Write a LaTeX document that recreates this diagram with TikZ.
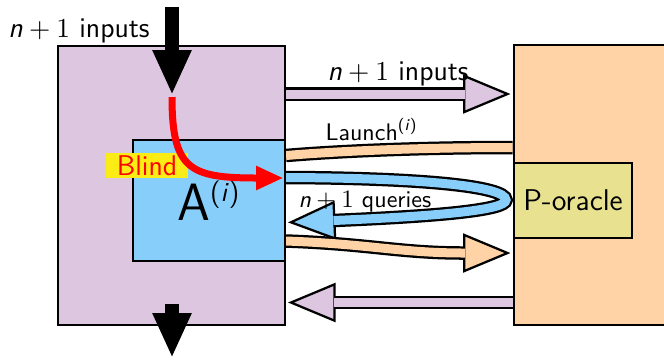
\documentclass[tikz,border=0pt]{standalone}
\usepackage{amsmath}
\usepackage{xcolor}
\usepackage{tikz}
\usetikzlibrary{arrows.meta,backgrounds}
\renewcommand{\familydefault}{\sfdefault}
\definecolor{wrapviolet}{RGB}{220,198,224}
\definecolor{askyblue}{RGB}{135,206,250}
\definecolor{oraclepeach}{RGB}{255,211,165}
\definecolor{oraclekhaki}{RGB}{232,226,144}
\definecolor{blindyellow}{RGB}{250,236,20}
\newcommand{\nplusone}{\textsl{n}${}+1$}
\newcommand{\ith}[1]{\textsuperscript{\fontsize{#1}{#1}\selectfont(\textsl{i})}}
\tikzset{
  box/.style={draw=black,line width=0.8pt,fill=#1,inner sep=0pt},
  band/.style={line width=5.4pt,draw=black,shorten >=0.8pt,
    -{Triangle[length=19pt,width=15.6pt,line width=0.9pt,color=black,fill=#1]},
    postaction={draw=#1,line width=3.6pt,-,shorten >=19pt}},
  flatband/.style={line width=5.4pt,draw=black,
    postaction={draw=#1,line width=3.6pt}},
  bigarrow/.style={line width=5.4pt,draw=black,-{Triangle[length=18pt,width=14.4pt]}},
  blindarrow/.style={line width=2.8pt,draw=red,-{Triangle[length=11pt,width=9pt]}},
  biglabel/.style={font=\fontsize{11.4}{13}\selectfont,inner sep=0pt},
  smalllabel/.style={font=\fontsize{9.6}{11}\selectfont,inner sep=0pt}
}

\begin{document}
\begin{tikzpicture}[x=0.4pt,y=-0.4pt]
  \useasboundingbox (0,0) rectangle (664,362);
  \clip (0,0) rectangle (664,362);
  % boxes
  \node[box=wrapviolet,minimum width=90.8pt,minimum height=111.6pt] (wrap) at (171.5,185.3) {};
  \node[box=oraclepeach,minimum width=74.8pt,minimum height=112pt] (peach) at (607,185) {};
  \node[box=askyblue,minimum width=60.8pt,minimum height=48.3pt,
    font=\fontsize{21}{24}\selectfont] (abox) at (209,200.3) {A\ith{11}};
  \node[box=oraclekhaki,minimum width=47.2pt,minimum height=30.2pt,
    font=\fontsize{12}{14}\selectfont] (oracle) at (573,200.5) {P-oracle};
  % labels
  \node[biglabel,anchor=base west] (inlabel) at (8,37) {\nplusone{} inputs};
  \node[biglabel,anchor=base west] (fwdlabel) at (327,80) {\nplusone{} inputs};
  \node[smalllabel,anchor=base west] (launchlabel) at (325,140) {Launch\ith{6.5}};
  \node[smalllabel,anchor=base west] (querylabel) at (298,207) {\nplusone{} queries};
  \node[biglabel,fill=blindyellow,text=red,minimum width=32.8pt,minimum height=10pt]
    (blind) at (147,165.5) {Blind};
  % bands between the boxes
  \begin{pgfonlayer}{background}
    \draw[band=wrapviolet] (wrap.east |- 0,94) -- (peach.west |- 0,94);
    \draw[flatband=oraclepeach] (peach.west |- 0,147.5)
      .. controls (420,147.5) and (340,151) .. (abox.east |- 0,155.5);
    \draw[band=askyblue] (abox.east |- 0,177.5)
      .. controls (420,178) and (506,186) .. (506,200)
      .. controls (506,210) and (440,216) .. (abox.east |- 0,222.5);
    \draw[band=oraclepeach] (abox.east |- 0,241)
      .. controls (370,244) and (400,253) .. (peach.west |- 0,253);
    \draw[band=wrapviolet] (peach.west |- 0,302.5) -- (wrap.east |- 0,302.5);
  \end{pgfonlayer}
  % input and output of the wrapper
  \coordinate (feed) at (172,7);
  \coordinate (feedend) at (172,95);
  \coordinate (out) at (172,304);
  \coordinate (outend) at (172,358);
  \draw[bigarrow] (feed) -- (feedend);
  \draw[bigarrow] (out) -- (outend);
  \coordinate (blindstart) at (172,97);
  \draw[blindarrow,shorten >=1pt] (blindstart)
    .. controls (172,170) and (190,178) .. (abox.east |- 0,178);
\end{tikzpicture}
\end{document}
